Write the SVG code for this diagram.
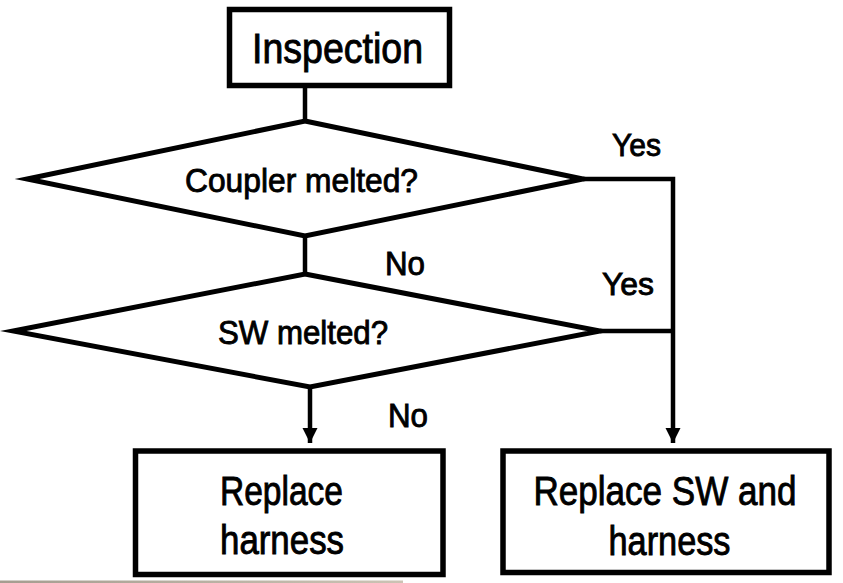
<svg xmlns="http://www.w3.org/2000/svg" width="843" height="583" viewBox="0 0 843 583">
  <style>
    .box { fill: #ffffff; stroke: #000000; stroke-width: 5.5; }
    .dia { fill: #ffffff; stroke: #000000; stroke-width: 5; stroke-linejoin: miter; stroke-miterlimit: 10; }
    .wire { fill: none; stroke: #000000; stroke-width: 4.5; }
    .lbl { font-family: "Liberation Sans", Arial, sans-serif; fill: #000000; stroke: #000000; stroke-width: 0.9; text-anchor: start; }
  </style>
  <defs>
    <marker id="arrow" viewBox="0 0 15 16" refX="15" refY="7.5" markerWidth="15" markerHeight="16" markerUnits="userSpaceOnUse" orient="auto">
      <path d="M0,0 L15,7.5 L0,15 Z" fill="#000000"/>
    </marker>
    <linearGradient id="bar" x1="0" y1="0" x2="1" y2="0">
      <stop offset="0" stop-color="#a59d90"/>
      <stop offset="1" stop-color="#cbc3b4"/>
    </linearGradient>
  </defs>

  <rect width="843" height="583" fill="#ffffff"/>

  <!-- connectors -->
  <g id="connectors">
    <line class="wire" x1="305" y1="86" x2="305" y2="121"/>
    <line class="wire" x1="305" y1="236" x2="305" y2="274"/>
    <polyline class="wire" points="583,179 673,179 673,443" marker-end="url(#arrow)"/>
    <line class="wire" x1="600" y1="331" x2="673" y2="331"/>
    <line class="wire" x1="310" y1="387" x2="310" y2="443" marker-end="url(#arrow)"/>
  </g>

  <!-- start -->
  <g id="inspection">
    <rect class="box" x="229.5" y="9.5" width="220" height="76"/>
    <text class="lbl" x="252" y="63" font-size="42" textLength="171" lengthAdjust="spacingAndGlyphs">Inspection</text>
  </g>

  <!-- first decision -->
  <g id="coupler-melted">
    <polygon class="dia" points="305,121 583,179 305,236 27,179"/>
    <text class="lbl" x="185" y="191.5" font-size="34" textLength="233" lengthAdjust="spacingAndGlyphs">Coupler melted?</text>
  </g>

  <!-- second decision -->
  <g id="sw-melted">
    <polygon class="dia" points="305,274 600,331 310,387 13,331"/>
    <text class="lbl" x="218" y="344" font-size="33" textLength="170" lengthAdjust="spacingAndGlyphs">SW melted?</text>
  </g>

  <!-- outcomes -->
  <g id="replace-harness">
    <rect class="box" x="135.5" y="451" width="307.5" height="123.5"/>
    <text class="lbl" x="220" y="505" font-size="40" textLength="123" lengthAdjust="spacingAndGlyphs">Replace</text>
    <text class="lbl" x="220" y="553.5" font-size="40" textLength="124" lengthAdjust="spacingAndGlyphs">harness</text>
  </g>

  <g id="replace-sw-harness">
    <rect class="box" x="503" y="451" width="326" height="121.5"/>
    <text class="lbl" x="533.5" y="505" font-size="40" textLength="263" lengthAdjust="spacingAndGlyphs">Replace SW and</text>
    <text class="lbl" x="608.5" y="555" font-size="40" textLength="122" lengthAdjust="spacingAndGlyphs">harness</text>
  </g>

  <!-- branch labels -->
  <g id="branch-labels">
    <text class="lbl" x="612" y="156" font-size="32" textLength="49" lengthAdjust="spacingAndGlyphs">Yes</text>
    <text class="lbl" x="385" y="275" font-size="33" textLength="40" lengthAdjust="spacingAndGlyphs">No</text>
    <text class="lbl" x="602" y="295" font-size="32" textLength="52" lengthAdjust="spacingAndGlyphs">Yes</text>
    <text class="lbl" x="388" y="426.5" font-size="33" textLength="40" lengthAdjust="spacingAndGlyphs">No</text>
  </g>

  <!-- strip along the lower edge -->
  <rect x="0" y="580.5" width="403" height="2.5" fill="url(#bar)"/>
</svg>
